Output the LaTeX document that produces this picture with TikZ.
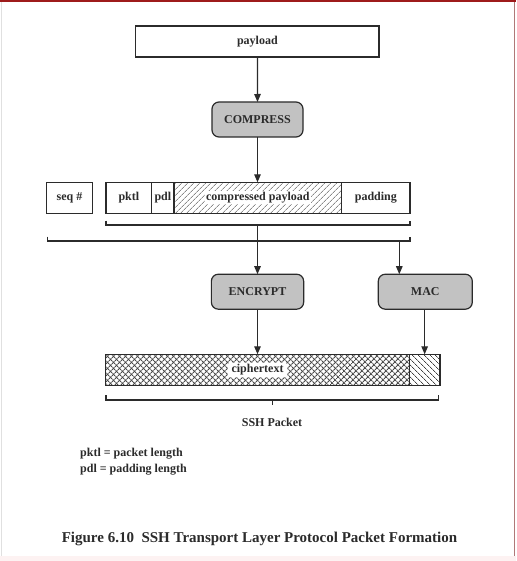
\documentclass[tikz,border=0pt]{standalone}
\usepackage{fontspec}
\setmainfont{Liberation Serif}
\usetikzlibrary{arrows.meta,patterns.meta,positioning}
\definecolor{ink}{HTML}{2B2B2B}
\definecolor{boxgray}{HTML}{C2C2C2}
\definecolor{topred}{HTML}{9E1B1B}
\definecolor{edgered}{HTML}{B07878}
\definecolor{pinkstrip}{HTML}{FDF2F2}
\tikzset{
  field/.style={draw=ink, line width=1.2pt, rectangle, minimum height=31pt, inner sep=0pt, outer sep=0pt, font=\fontsize{12}{14}\selectfont\bfseries, text=ink},
  proc/.style={draw=ink, line width=1.2pt, fill=boxgray, rectangle, rounded corners=7pt, minimum height=35pt, inner sep=0pt, outer sep=0pt, font=\fontsize{12}{14}\selectfont\bfseries, text=ink},
  conn/.style={draw=ink, line width=1.2pt, -{Triangle[length=8pt,width=6.5pt]}},
  brace/.style={draw=ink, line width=1.2pt},
  lbl/.style={font=\fontsize{12}{14}\selectfont\bfseries, text=ink, inner sep=0pt},
}
\begin{document}
\begin{tikzpicture}[x=1pt,y=-1pt]
% canvas and frame
\fill[white] (0,0) rectangle (516,561);
\useasboundingbox (0,0) rectangle (516,561);
\fill[pinkstrip] (0,556) rectangle (516,561);
\fill[topred] (0,0) rectangle (516,2.5);
\draw[edgered, line width=0.8pt] (514.4,2.5) -- (514.4,556);
\draw[black!12, line width=0.6pt] (1,2.5) -- (1,556);

% payload and compress
\node[field, minimum width=243.3pt] (payload) at (257.4,41.5) {payload};
\node[proc, minimum width=91pt] (compress) at (257.5,119.5) {COMPRESS};

% packet fields
\node[field, minimum width=45.6pt] (seq) at (69.5,197.8) {seq \#};
\node[field, minimum width=45.7pt, anchor=west] (pktl) at (106,197.8) {pktl};
\node[field, minimum width=22.3pt, anchor=west] (pdl) at (pktl.east) {pdl};
\node[field, minimum width=167.7pt, anchor=west, pattern={Lines[angle=45,distance=4pt,line width=0.6pt]}, pattern color=ink!85] (comp) at (pdl.east) {};
\node[lbl, fill=white, inner sep=1pt] (complbl) at (comp.center) {compressed payload};
\node[field, minimum width=68.3pt, anchor=west] (padding) at (comp.east) {padding};

% brackets
\coordinate (b1l) at (106,225);
\coordinate (b1r) at (410,225);
\coordinate (b1) at (257.5,225);
\draw[brace] ([yshift=4.5pt]b1l) -- (b1l) -- (b1r) -- ([yshift=4.5pt]b1r);
\coordinate (b2l) at (47.3,241);
\coordinate (b2r) at (410,241);
\coordinate (b2m) at (399.3,241);
\draw[brace] ([yshift=4.5pt]b2l) -- (b2l) -- (b2r) -- ([yshift=4.5pt]b2r);

% encrypt and mac
\node[proc, minimum width=92.3pt] (encrypt) at (257.5,291.7) {ENCRYPT};
\node[proc, minimum width=94pt] (mac) at (425.3,291.7) {MAC};

% ciphertext
\node[draw=ink, line width=1.2pt, rectangle, minimum width=303.6pt, minimum height=31.4pt, inner sep=0pt, outer sep=0pt, anchor=west] (cipher) at (105.7,370) {};
\fill[pattern={Lines[angle=45,distance=4pt,line width=1.1pt]}, pattern color=ink!85] (cipher.south west) rectangle (cipher.north east);
\fill[pattern={Lines[angle=-45,distance=4pt,line width=1.1pt]}, pattern color=ink!85] (cipher.south west) rectangle (cipher.north east);
\draw[ink, line width=1.2pt] (cipher.south west) rectangle (cipher.north east);
\node[lbl, fill=white, rounded corners=3pt, inner xsep=4pt, inner ysep=2pt] (cipherlbl) at (cipher.center) {ciphertext};
\node[draw=ink, line width=1.2pt, rectangle, minimum width=30.7pt, minimum height=31.4pt, inner sep=0pt, outer sep=0pt, anchor=west, pattern={Lines[angle=-45,distance=4pt,line width=0.8pt]}, pattern color=ink!90] (macf) at (cipher.east) {};

% bracket 3
\coordinate (b3l) at (106,400);
\coordinate (b3r) at (438.3,400);
\coordinate (b3m) at (272.5,400);
\coordinate (b3t) at (272.5,405);
\draw[brace] ([yshift=5pt]b3l) -- (b3l) -- (b3r) -- ([yshift=5pt]b3r);
\draw[brace] (b3m) -- (b3t);
\node[lbl] (ssh) at (272,422.7) {SSH Packet};

% connectors
\draw[conn] (payload.south) -- (compress.north);
\draw[conn] (compress.south) -- (compress.south |- comp.north);
\draw[conn] (b1) -- (encrypt.north);
\draw[conn] (b2m) -- (b2m |- mac.north);
\draw[conn] (encrypt.south) -- (encrypt.south |- cipher.north);
\draw[conn] (macf.center |- mac.south) -- (macf.north);

% legend and caption
\node[lbl, anchor=west] (leg1) at (80,454) {pktl = packet length};
\node[lbl, anchor=west] (leg2) at (80,469.3) {pdl = padding length};
\node[font=\fontsize{15}{17}\selectfont\bfseries, text=ink, inner sep=0pt] (caption) at (259.5,539.3) {Figure 6.10\ \ SSH Transport Layer Protocol Packet Formation};
\end{tikzpicture}
\end{document}
